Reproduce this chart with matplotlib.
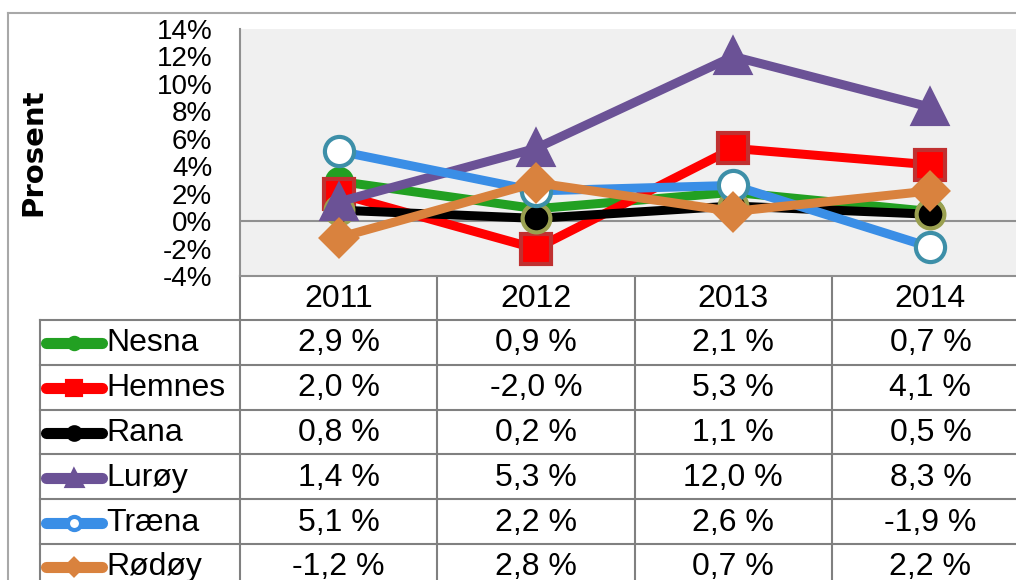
"""
Befolkningsendring i prosent per kommune, 2011-2014.
Linjediagram med datatabell under (Excel-stil).
"""

import matplotlib
matplotlib.use("Agg")
import matplotlib.pyplot as plt
import matplotlib.transforms as mtransforms
from matplotlib.ticker import FuncFormatter

plt.rcParams["font.family"] = ["Liberation Sans", "DejaVu Sans"]

years = ["2011", "2012", "2013", "2014"]
kommuner = ["Nesna", "Hemnes", "Rana", "Lurøy", "Træna", "Rødøy"]

nesna = [2.9, 0.9, 2.1, 0.7]
hemnes = [2.0, -2.0, 5.3, 4.1]
rana = [0.8, 0.2, 1.1, 0.5]
luroy = [1.4, 5.3, 12.0, 8.3]
traena = [5.1, 2.2, 2.6, -1.9]
rodoy = [-1.2, 2.8, 0.7, 2.2]
values = [nesna, hemnes, rana, luroy, traena, rodoy]

yticks = [-4, -2, 0, 2, 4, 6, 8, 10, 12, 14]

# stil per serie: linjefarge, markør, markørfarge, kantfarge, størrelse
styles = {
    "Nesna": dict(color="#22A022", marker="o", mfc="#22A022", mec="#22A022", ms=18),
    "Hemnes": dict(color="#FF0000", marker="s", mfc="#FF0000", mec="#C03030", ms=22),
    "Rana": dict(color="#000000", marker="o", mfc="#000000", mec="#9AA050", ms=20),
    "Lurøy": dict(color="#6B5296", marker="^", mfc="#6B5296", mec="#6B5296", ms=24),
    "Træna": dict(color="#3A8EE6", marker="o", mfc="#FFFFFF", mec="#3D8FA8", ms=21),
    "Rødøy": dict(color="#D9823E", marker="D", mfc="#D9823E", mec="#D9823E", ms=18),
}

W, H = 1016, 580
fig = plt.figure(figsize=(W / 100, H / 100), dpi=100)

# hjelpeakse i piksler for ramme og tabell
frame = fig.add_axes([0, 0, 1, 1], zorder=0)
frame.set_xlim(0, W)
frame.set_ylim(H, 0)
frame.axis("off")

# plottområde
left, right, top, bottom = 240, 1029, 29, 276
ax = fig.add_axes([left / W, (H - bottom) / H, (right - left) / W, (bottom - top) / H],
                  zorder=1)
ax.set_facecolor("#F0F0F0")
ax.set_xlim(-0.5, len(years) - 0.5)
ax.set_ylim(-4, 14)
ax.set_yticks(yticks)
ax.yaxis.set_major_formatter(FuncFormatter(lambda v, p: f"{v:.0f}%"))
ax.tick_params(axis="y", length=0, pad=20, labelsize=20)
ax.set_xticks([])
for s in ["top", "right"]:
    ax.spines[s].set_visible(False)
for s in ["left", "bottom"]:
    ax.spines[s].set_color("#909090")
    ax.spines[s].set_linewidth(1.5)
ax.axhline(0, color="#909090", linewidth=1.5, zorder=1)

x = list(range(len(years)))
for name, vals in zip(kommuner, values):
    st = styles[name]
    ax.plot(x, vals, color=st["color"], linewidth=6.5, marker=st["marker"],
            markersize=st["ms"], markerfacecolor=st["mfc"],
            markeredgecolor=st["mec"], markeredgewidth=3, clip_on=False,
            solid_joinstyle="miter", zorder=3)

fig.text(33 / W, 1 - 152 / H, "Prosent", rotation=90, ha="center", va="center",
         fontsize=21, fontweight="bold", family="DejaVu Sans")

# ytre ramme
grid_c = "#A8A8A8"
frame.plot([8, W], [13, 13], color=grid_c, lw=1.5)
frame.plot([8, 8], [13, H], color=grid_c, lw=1.5)

# datatabell: x i dataenheter, y i piksler
blend = mtransforms.blended_transform_factory(ax.transData, frame.transData)
tab_c = "#808080"
header_top, header_bot = 276, 320
row_h = 44.8
n_rows = len(kommuner)
table_bot = header_bot + row_h * (n_rows + 1)
fs = 23

for b in [i - 0.5 for i in range(len(years) + 1)]:
    frame.plot([b, b], [header_top, table_bot], color=tab_c, lw=1.5,
               transform=blend, clip_on=True)
frame.plot([40, 40], [header_bot, table_bot], color=tab_c, lw=1.5)
for r in range(n_rows + 1):
    yy = header_bot + r * row_h
    frame.plot([40, W], [yy, yy], color=tab_c, lw=1.5)

for i, yr in enumerate(years):
    frame.text(i, (header_top + header_bot) / 2 + 1, yr, transform=blend,
               ha="center", va="center", fontsize=fs)

for r, (name, vals) in enumerate(zip(kommuner, values)):
    yc = header_bot + (r + 0.5) * row_h + 1
    st = styles[name]
    frame.plot([46, 102], [yc, yc], color=st["color"], lw=8,
               solid_capstyle="round")
    frame.plot([74], [yc], marker=st["marker"], markersize=st["ms"] * 0.45,
               color=st["color"], markerfacecolor=st["mfc"],
               markeredgecolor=st["color"], markeredgewidth=3)
    frame.text(106, yc, name, ha="left", va="center", fontsize=fs)
    for i, v in enumerate(vals):
        label = f"{v:.1f} %".replace(".", ",")
        frame.text(i, yc, label, transform=blend, ha="center", va="center",
                   fontsize=fs)

fig.savefig("out.png", dpi=100)
